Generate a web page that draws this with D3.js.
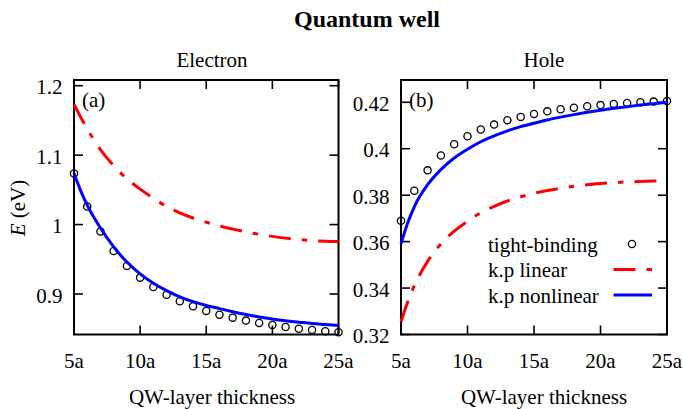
<!DOCTYPE html>
<html>
<head>
<meta charset="utf-8">
<script src="https://cdn.jsdelivr.net/npm/d3@7"></script>
<style>
    body { margin: 0; background: #fff; }
    text { font-family: "Liberation Serif", "Times New Roman", serif; fill: #000; }
</style>
</head>
<body>
<svg id="chart"></svg>
<script>
// thickness values (in units of a)
let tbThickness = [5, 6, 7, 8, 9, 10, 11, 12, 13, 14, 15, 16, 17, 18, 19, 20, 21, 22, 23, 24, 25];
let kpThickness = [5, 5.5, 6, 7, 8, 9, 10, 11, 12, 13, 14, 15, 16, 17, 18, 19, 20, 21, 22, 23, 24, 25];

// Electron (a)
let electronTB = [1.0735, 1.026, 0.990, 0.962, 0.9405, 0.9236, 0.910, 0.899, 0.8896, 0.8824, 0.8757,
    0.8703, 0.866, 0.8617, 0.8584, 0.8555, 0.8526, 0.850, 0.8483, 0.8464, 0.845];
let electronLinear = [1.1735, 1.155, 1.138, 1.108, 1.085, 1.066, 1.051, 1.038, 1.026, 1.017, 1.0095,
    1.0035, 0.998, 0.9935, 0.9895, 0.986, 0.983, 0.9805, 0.9785, 0.977, 0.976, 0.9755];
let electronNonlinear = [1.0735, 1.049, 1.028, 0.995, 0.968, 0.946, 0.929, 0.9155, 0.905, 0.896, 0.889,
    0.8835, 0.879, 0.8745, 0.8705, 0.867, 0.864, 0.8615, 0.8595, 0.8575, 0.856, 0.8545];

// Hole (b)
let holeTB = [0.369, 0.3819, 0.3907, 0.3971, 0.4019, 0.4054, 0.4083, 0.4104, 0.4123, 0.4137, 0.415,
    0.4161, 0.417, 0.4177, 0.4183, 0.4188, 0.4193, 0.4197, 0.420, 0.4203, 0.4206];
let holeLinear = [0.3255, 0.334, 0.341, 0.3515, 0.359, 0.3645, 0.3688, 0.3724, 0.3752, 0.3775, 0.3793,
    0.3808, 0.382, 0.383, 0.3838, 0.3845, 0.385, 0.3854, 0.3857, 0.3859, 0.3861, 0.3862];
let holeNonlinear = [0.359, 0.368, 0.375, 0.3845, 0.391, 0.396, 0.3998, 0.403, 0.4055, 0.4077, 0.4095,
    0.411, 0.4124, 0.4136, 0.4147, 0.4157, 0.4166, 0.4174, 0.4181, 0.4188, 0.4194, 0.42];

// ticks
let xTicks = [5, 10, 15, 20, 25];
let xTickLabels = ["5a", "10a", "15a", "20a", "25a"];
let electronYTicks = [0.9, 1, 1.1, 1.2];
let electronYTickLabels = ["0.9", "1", "1.1", "1.2"];
let holeYTicks = [0.32, 0.34, 0.36, 0.38, 0.4, 0.42];
let holeYTickLabels = ["0.32", "0.34", "0.36", "0.38", "0.4", "0.42"];

let legendLabels = ["tight-binding", "k.p linear", "k.p nonlinear"];

let width = 683;
let height = 409;

let svg = d3.select("#chart")
    .attr("width", width)
    .attr("height", height);

// title
svg.append("text")
    .attr("x", 367)
    .attr("y", 27)
    .attr("text-anchor", "middle")
    .style("font-size", "24px")
    .style("font-weight", "bold")
    .text("Quantum well");

// y-axis label (shared)
let yLab = svg.append("text")
    .attr("transform", "translate(25,208) rotate(-90)")
    .attr("text-anchor", "middle")
    .style("font-size", "21px");
yLab.append("tspan").style("font-style", "italic").text("E");
yLab.append("tspan").text(" (eV)");

function drawPanel(opt) {
    let x = d3.scaleLinear().domain([5, 25]).range([opt.left, opt.right]);
    let y = d3.scaleLinear().domain(opt.yDomain).range([334.5, 80]);
    let top = 80, bottom = 334.5, tick = 9;

    let g = svg.append("g");

    // panel subtitle
    g.append("text")
        .attr("x", opt.titleX)
        .attr("y", 67)
        .attr("text-anchor", "middle")
        .style("font-size", "21px")
        .text(opt.title);

    // x axis title
    g.append("text")
        .attr("x", opt.titleX)
        .attr("y", 404)
        .attr("text-anchor", "middle")
        .style("font-size", "21px")
        .text("QW-layer thickness");

    // x ticks (inward, mirrored)
    xTicks.forEach(function(v, i) {
        g.append("line")
            .attr("x1", x(v)).attr("x2", x(v))
            .attr("y1", bottom).attr("y2", bottom - tick)
            .attr("stroke", "#000").attr("stroke-width", 1.6);
        g.append("line")
            .attr("x1", x(v)).attr("x2", x(v))
            .attr("y1", top).attr("y2", top + tick)
            .attr("stroke", "#000").attr("stroke-width", 1.6);
        g.append("text")
            .attr("x", x(v))
            .attr("y", 368)
            .attr("text-anchor", "middle")
            .style("font-size", "21px")
            .text(xTickLabels[i]);
    });

    // y ticks
    opt.yTicks.forEach(function(v, i) {
        g.append("line")
            .attr("x1", opt.left).attr("x2", opt.left + tick)
            .attr("y1", y(v)).attr("y2", y(v))
            .attr("stroke", "#000").attr("stroke-width", 1.6);
        g.append("line")
            .attr("x1", opt.right).attr("x2", opt.right - tick)
            .attr("y1", y(v)).attr("y2", y(v))
            .attr("stroke", "#000").attr("stroke-width", 1.6);
        g.append("text")
            .attr("x", opt.left - 11.5)
            .attr("y", y(v) + 8.5)
            .attr("text-anchor", "end")
            .style("font-size", "21px")
            .text(opt.yTickLabels[i]);
    });

    // frame
    g.append("rect")
        .attr("x", opt.left).attr("y", top)
        .attr("width", opt.right - opt.left).attr("height", bottom - top)
        .attr("fill", "none").attr("stroke", "#000").attr("stroke-width", 2);

    // panel tag
    g.append("text")
        .attr("x", opt.left + 8)
        .attr("y", 107)
        .style("font-size", "21px")
        .text(opt.tag);

    let line = d3.line()
        .x((d, i) => x(kpThickness[i]))
        .y(d => y(d))
        .curve(d3.curveMonotoneX);

    // tight-binding circles
    g.selectAll(".tb")
        .data(opt.tb)
        .enter().append("circle")
        .attr("cx", (d, i) => x(tbThickness[i]))
        .attr("cy", d => y(d))
        .attr("r", 3.6)
        .attr("fill", "none")
        .attr("stroke", "#000")
        .attr("stroke-width", 1.3);

    // k.p linear
    g.append("path")
        .datum(opt.linear)
        .attr("d", line)
        .attr("fill", "none")
        .attr("stroke", "#ff0000")
        .attr("stroke-width", 3)
        .attr("stroke-dasharray", "22,11,5.5,11");

    // k.p nonlinear
    g.append("path")
        .datum(opt.nonlinear)
        .attr("d", line)
        .attr("fill", "none")
        .attr("stroke", "#0000ff")
        .attr("stroke-width", 3);

    return g;
}

drawPanel({
    left: 74, right: 338.5, yDomain: [0.8417, 1.2082],
    title: "Electron", titleX: 212, tag: "(a)",
    yTicks: electronYTicks, yTickLabels: electronYTickLabels,
    tb: electronTB, linear: electronLinear, nonlinear: electronNonlinear
});

let hole = drawPanel({
    left: 401, right: 667, yDomain: [0.32, 0.4296],
    title: "Hole", titleX: 544, tag: "(b)",
    yTicks: holeYTicks, yTickLabels: holeYTickLabels,
    tb: holeTB, linear: holeLinear, nonlinear: holeNonlinear
});

// legend (inside the hole panel)
let legendRows = [244, 269.5, 295];
legendLabels.forEach(function(label, i) {
    hole.append("text")
        .attr("x", 488)
        .attr("y", legendRows[i] + 7.5)
        .style("font-size", "21px")
        .text(label);
});
hole.append("circle")
    .attr("cx", 632).attr("cy", legendRows[0]).attr("r", 3.6)
    .attr("fill", "none").attr("stroke", "#000").attr("stroke-width", 1.3);
hole.append("line")
    .attr("x1", 613.5).attr("x2", 652).attr("y1", legendRows[1]).attr("y2", legendRows[1])
    .attr("stroke", "#ff0000").attr("stroke-width", 3)
    .attr("stroke-dasharray", "22,11,5.5,11");
hole.append("line")
    .attr("x1", 613.5).attr("x2", 652).attr("y1", legendRows[2]).attr("y2", legendRows[2])
    .attr("stroke", "#0000ff").attr("stroke-width", 3);
</script>
</body>
</html>
